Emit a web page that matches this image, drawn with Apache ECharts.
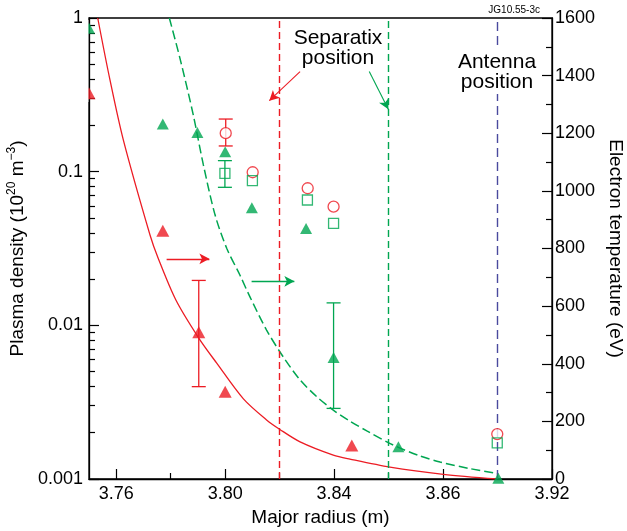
<!DOCTYPE html>
<html>
<head>
<meta charset="utf-8">
<script src="https://cdn.jsdelivr.net/npm/echarts@6/dist/echarts.min.js"></script>
<style>html,body{margin:0;padding:0;background:#fff}#c{width:627px;height:531px}</style>
</head>
<body>
<div id="c"></div>
<script>
// ---- tick definitions ----
const xTickVals = [3.76, 3.80, 3.84, 3.88, 3.92];
const xTickLabels = ['3.76', '3.80', '3.84', '3.86', '3.92'];
const xMinorTicks = [3.78, 3.82, 3.86, 3.90];
const densityTickVals = [0.001, 0.01, 0.1, 1];
const densityTickLabels = ['0.001', '0.01', '0.1', '1'];
const densityMinorTicks = [0.002,0.003,0.004,0.005,0.006,0.007,0.008,0.009,
  0.02,0.03,0.04,0.05,0.06,0.07,0.08,0.09,
  0.2,0.3,0.4,0.5,0.6,0.7,0.8,0.9];

// ---- temperature profiles (right axis, eV) ----
const redTempX = [3.7532, 3.7577, 3.7626, 3.7724, 3.7754, 3.7819, 3.7903, 3.7969, 3.8067, 3.8152, 3.8201, 3.8275, 3.8397, 3.8458, 3.8605, 3.8801, 3.8997];
const redTempY = [1600, 1385, 1177, 847, 766, 621, 489, 402, 278, 205, 172, 129, 83, 69, 41, 16, 0];
const greenTempX = [3.7795, 3.7834, 3.7883, 3.7920, 3.7963, 3.8006, 3.8054, 3.8091, 3.8152, 3.8213, 3.8275, 3.8336, 3.8397, 3.8458, 3.8520, 3.8617, 3.8715, 3.8789, 3.8899, 3.8997];
const greenTempY = [1600, 1460, 1263, 1090, 916, 800, 708, 632, 517, 424, 344, 286, 239, 201, 167, 118, 80, 59, 36, 20];

// ---- density points (left axis, 1e20 m^-3) ----
const greenTriX = [3.75, 3.7771, 3.7898, 3.8000, 3.8098, 3.8297, 3.8398, 3.8636, 3.9003];
const greenTriY = [0.857, 0.204, 0.180, 0.135, 0.0583, 0.0426, 0.00617, 0.00162, 0.00101];
const redTriX = [3.75, 3.7771, 3.7903, 3.8000, 3.8465];
const redTriY = [0.324, 0.0413, 0.00901, 0.00370, 0.00165];
const redCircX = [3.8002, 3.8101, 3.8303, 3.8398, 3.8999];
const redCircY = [0.178, 0.0991, 0.0780, 0.0592, 0.00196];
const greenSqX = [3.7999, 3.8100, 3.8302, 3.8398, 3.8999];
const greenSqY = [0.0976, 0.0874, 0.0654, 0.0461, 0.00172];

// error bars: [x, low, high]
const redErr = [[3.8002, 0.147, 0.220], [3.7903, 0.00399, 0.0196]];
const greenErr = [[3.7999, 0.0791, 0.118], [3.8398, 0.00288, 0.0140]];

// positions (major radius, m)
const sepRedX = 3.8154;
const sepGreenX = 3.8615;
const antennaX = 3.8994;

// annotation arrows [x, T]
const redArrow = [[3.7785, 764], [3.7942, 764]];
const greenArrow = [[3.8097, 686], [3.8254, 686]];
const sepRedArrow = [[3.8275, 1414], [3.8162, 1313]];
const sepGreenArrow = [[3.8529, 1414], [3.8599, 1283]];

const RED = '#ec1c24';
const GREEN = '#00a651';
const BLUE = '#4a4a9e';
const FONT = 'Liberation Sans, Arial, Helvetica, sans-serif';

const zip = (a, b) => a.map((v, i) => [v, b[i]]);

function errRender(color) {
  return function (params, api) {
    const x = api.value(0), lo = api.value(1), hi = api.value(2);
    const p1 = api.coord([x, hi]);
    const p2 = api.coord([x, lo]);
    const hw = 7;
    const st = { stroke: color, lineWidth: 1.3 };
    return {
      type: 'group',
      children: [
        { type: 'line', shape: { x1: p1[0], y1: p1[1], x2: p2[0], y2: p2[1] }, style: st },
        { type: 'line', shape: { x1: p1[0] - hw, y1: p1[1], x2: p1[0] + hw, y2: p1[1] }, style: st },
        { type: 'line', shape: { x1: p2[0] - hw, y1: p2[1], x2: p2[0] + hw, y2: p2[1] }, style: st }
      ]
    };
  };
}

const chart = echarts.init(document.getElementById('c'), null, { renderer: 'canvas' });
const axisLineStyle = { color: '#000', width: 1.3 };

chart.setOption({
  animation: false,
  backgroundColor: '#fff',
  textStyle: { fontFamily: FONT },
  grid: { left: 89, top: 18, width: 463, height: 461, containLabel: false, outerBoundsMode: 'none', show: true, borderColor: '#000', borderWidth: 1.3, backgroundColor: 'transparent' },
  xAxis: [
    {
      type: 'value', min: 3.75, max: 3.92,
      axisLine: { show: true, lineStyle: axisLineStyle, onZero: false },
      axisTick: { show: true, inside: true, length: 10, customValues: xTickVals, lineStyle: { color: '#000', width: 1.2 } },
      axisLabel: {
        show: true, customValues: xTickVals, margin: 6, fontSize: 18, color: '#000', fontFamily: FONT,
        formatter: function (v) {
          let best = 0;
          xTickVals.forEach((t, i) => { if (Math.abs(t - v) < Math.abs(xTickVals[best] - v)) best = i; });
          return xTickLabels[best];
        }
      },
      splitLine: { show: false },
      name: 'Major radius (m)', nameLocation: 'middle', nameGap: 28,
      nameTextStyle: { fontSize: 19, color: '#000', fontFamily: FONT }
    },
    {
      type: 'value', min: 3.75, max: 3.92, position: 'bottom',
      axisLine: { show: false },
      axisTick: { show: true, inside: true, length: 6, customValues: xMinorTicks, lineStyle: { color: '#000', width: 1.2 } },
      axisLabel: { show: false },
      splitLine: { show: false }
    }
  ],
  yAxis: [
    {
      type: 'log', logBase: 10, min: 0.001, max: 1, position: 'left',
      axisLine: { show: true, lineStyle: axisLineStyle, onZero: false },
      axisTick: { show: true, inside: true, length: 10, customValues: densityTickVals, lineStyle: { color: '#000', width: 1.2 } },
      axisLabel: {
        show: true, customValues: densityTickVals, margin: 6, fontSize: 18, color: '#000', fontFamily: FONT,
        formatter: function (v) {
          const i = Math.round(Math.log10(v)) + 3;
          return densityTickLabels[i];
        }
      },
      splitLine: { show: false },
      name: '{n|Plasma density (10}{s|20}{n| m}{s|−3}{n|)}',
      nameLocation: 'middle', nameRotate: 90, nameGap: 52,
      nameTextStyle: {
        color: '#000', fontFamily: FONT,
        rich: {
          n: { fontSize: 19, lineHeight: 24, color: '#000', fontFamily: FONT },
          s: { fontSize: 12, lineHeight: 12, verticalAlign: 'top', color: '#000', fontFamily: FONT }
        }
      }
    },
    {
      type: 'value', min: 0, max: 1600, interval: 200, position: 'right',
      axisLine: { show: true, lineStyle: axisLineStyle, onZero: false },
      axisTick: { show: true, inside: true, length: 10, lineStyle: { color: '#000', width: 1.2 } },
      minorTick: { show: true, splitNumber: 2, length: 6, lineStyle: { color: '#000', width: 1.2 } },
      axisLabel: { show: true, margin: 3, fontSize: 18, color: '#000', fontFamily: FONT, formatter: (v) => String(v) },
      splitLine: { show: false },
      name: 'Electron temperature (eV)', nameLocation: 'middle', nameRotate: -90, nameGap: 52,
      nameTextStyle: { fontSize: 19, color: '#000', fontFamily: FONT }
    },
    {
      type: 'log', logBase: 10, min: 0.001, max: 1, position: 'left',
      axisLine: { show: false },
      axisTick: { show: true, inside: true, length: 6, customValues: densityMinorTicks, lineStyle: { color: '#000', width: 1.2 } },
      axisLabel: { show: false },
      splitLine: { show: false }
    }
  ],
  series: [
    {
      name: 'Te red', type: 'line', xAxisIndex: 0, yAxisIndex: 1, data: zip(redTempX, redTempY),
      showSymbol: false, smooth: 0.3, lineStyle: { color: RED, width: 1.3 }, z: 3,
      markLine: {
        silent: true, symbol: 'none', animation: false,
        label: { show: false },
        data: [
          { xAxis: sepRedX, lineStyle: { color: RED, type: [7, 4], width: 1.4 } },
          { xAxis: sepGreenX, lineStyle: { color: GREEN, type: [7, 4], width: 1.4 } },
          { xAxis: antennaX, lineStyle: { color: BLUE, type: [9, 5], width: 1.4 } }
        ]
      }
    },
    {
      name: 'Te green', type: 'line', xAxisIndex: 0, yAxisIndex: 1, data: zip(greenTempX, greenTempY),
      showSymbol: false, smooth: 0.3, lineStyle: { color: GREEN, width: 1.5, type: [9, 4] }, z: 3,
      markLine: {
        silent: true, symbol: ['none', 'arrow'], symbolSize: [8, 10], animation: false,
        label: { show: false },
        data: [
          [{ coord: redArrow[0], lineStyle: { color: RED, width: 1.3, type: 'solid' } }, { coord: redArrow[1] }],
          [{ coord: greenArrow[0], lineStyle: { color: GREEN, width: 1.3, type: 'solid' } }, { coord: greenArrow[1] }],
          [{ coord: sepRedArrow[0], lineStyle: { color: RED, width: 1.1, type: 'solid' } }, { coord: sepRedArrow[1] }],
          [{ coord: sepGreenArrow[0], lineStyle: { color: GREEN, width: 1.1, type: 'solid' } }, { coord: sepGreenArrow[1] }]
        ]
      }
    },
    {
      name: 'red err', type: 'custom', xAxisIndex: 0, yAxisIndex: 0, data: redErr,
      renderItem: errRender(RED), z: 4, silent: true
    },
    {
      name: 'green err', type: 'custom', xAxisIndex: 0, yAxisIndex: 0, data: greenErr,
      renderItem: errRender(GREEN), z: 4, silent: true
    },
    {
      name: 'green tri', type: 'scatter', xAxisIndex: 0, yAxisIndex: 0, data: zip(greenTriX, greenTriY),
      symbol: 'triangle', symbolSize: [12, 11], itemStyle: { color: GREEN }, z: 5
    },
    {
      name: 'red tri', type: 'scatter', xAxisIndex: 0, yAxisIndex: 0, data: zip(redTriX, redTriY),
      symbol: 'triangle', symbolSize: [13, 12], itemStyle: { color: RED }, z: 5
    },
    {
      name: 'red circ', type: 'scatter', xAxisIndex: 0, yAxisIndex: 0, data: zip(redCircX, redCircY),
      symbol: 'circle', symbolSize: 11, itemStyle: { color: '#fff', borderColor: RED, borderWidth: 1.3 }, z: 5
    },
    {
      name: 'green sq', type: 'scatter', xAxisIndex: 0, yAxisIndex: 0, data: zip(greenSqX, greenSqY),
      symbol: 'rect', symbolSize: 10, itemStyle: { color: 'rgba(255,255,255,0)', borderColor: GREEN, borderWidth: 1.3 }, z: 5
    }
  ],
  graphic: [
    { type: 'rect', shape: { x: 82, y: 20, width: 6.4, height: 82 }, style: { fill: '#fff' }, z: 100, silent: true },
    {
      type: 'text', x: 338, y: 48, z: 50,
      style: { text: 'Separatix\nposition', align: 'center', verticalAlign: 'middle', font: '21px ' + FONT, lineHeight: 20, fill: '#000' }
    },
    {
      type: 'text', x: 497, y: 72, z: 50,
      style: { text: 'Antenna\nposition', align: 'center', verticalAlign: 'middle', font: '21px ' + FONT, lineHeight: 20, fill: '#000', backgroundColor: '#fff', padding: [2, 1, 2, 1] }
    },
    {
      type: 'text', x: 540, y: 10, z: 50,
      style: { text: 'JG10.55-3c', align: 'right', verticalAlign: 'middle', font: '10px ' + FONT, fill: '#000' }
    }
  ]
});
</script>
</body>
</html>
